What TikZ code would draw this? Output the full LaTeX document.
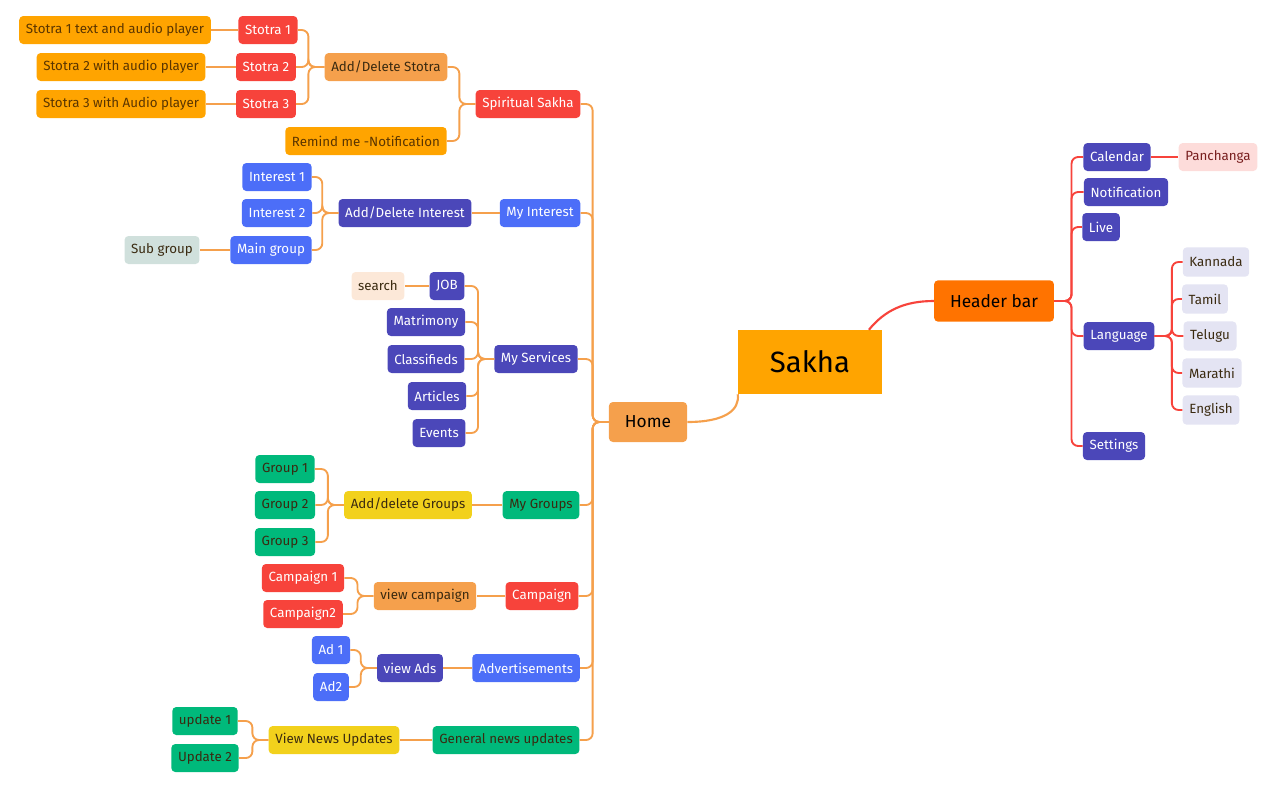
\documentclass[tikz,border=0pt]{standalone}
\usepackage{fontspec}
\setmainfont{Fira Sans}
\begin{document}
\begin{tikzpicture}[x=0.75pt,y=-0.75pt,
 box/.style={rounded corners=3pt,minimum height=21pt,inner xsep=5pt,inner ysep=2pt,font=\fontsize{10}{12}\selectfont},
 org/.style={box,fill=orange1,text=brn},
 red/.style={box,fill=red1,text=white},
 lor/.style={box,fill=lorange,text=dark},
 blu/.style={box,fill=blue1,text=white},
 pur/.style={box,fill=purp,text=white},
 grn/.style={box,fill=green1,text=dark},
 yel/.style={box,fill=yel1,text=dark},
 lav/.style={box,fill=lav1,text=dark,minimum height=22pt},
 oc/.style={draw=lorange,line width=1.4pt,rounded corners=5pt},
 rc/.style={draw=red1,line width=1.4pt,rounded corners=5pt}]
\definecolor{orange1}{HTML}{FFA400}
\definecolor{brn}{HTML}{5A3500}
\definecolor{red1}{HTML}{F7433B}
\definecolor{lorange}{HTML}{F5A04C}
\definecolor{dark}{HTML}{3A2A10}
\definecolor{blue1}{HTML}{4C6EF8}
\definecolor{purp}{HTML}{4B47B9}
\definecolor{green1}{HTML}{00B97B}
\definecolor{yel1}{HTML}{F2D11C}
\definecolor{lav1}{HTML}{E4E4F3}
\definecolor{hdr}{HTML}{FF7300}
\useasboundingbox (0,0) rectangle (1276,790);
% left nodes
\node[org] (s1t) at (115,30) {Stotra 1 text and audio player};
\node[org] (s2t) at (121,67) {Stotra 2 with audio player};
\node[org] (s3t) at (121,104) {Stotra 3 with Audio player};
\node[org] (rem) at (366,141) {Remind me -Notification};
\node[red] (s1) at (268,30) {Stotra 1};
\node[red] (s2) at (266,67) {Stotra 2};
\node[red] (s3) at (266,104) {Stotra 3};
\node[lor] (ads) at (386,67) {Add/Delete Stotra};
\node[red] (sp) at (528,104) {Spiritual Sakha};
\node[blu] (i1) at (277,177) {Interest 1};
\node[blu] (i2) at (277,213) {Interest 2};
\node[blu] (mg) at (271,250) {Main group};
\node[box,fill={rgb,255:red,208;green,224;blue,220},text=dark] (sg) at (162,250) {Sub group};
\node[pur] (adi) at (405,213) {Add/Delete Interest};
\node[blu] (mi) at (540,213) {My Interest};
\node[box,fill={rgb,255:red,252;green,232;blue,216},text=dark] (se) at (378,286) {search};
\node[pur] (job) at (447,286) {JOB};
\node[pur] (mat) at (426,322) {Matrimony};
\node[pur] (cla) at (426,359) {Classifieds};
\node[pur] (art) at (437,396) {Articles};
\node[pur] (ev) at (439,433) {Events};
\node[pur] (ms) at (536,359) {My Services};
\node[box,fill=lorange,text=black,minimum height=30pt,inner xsep=12pt,font=\fontsize{13}{15}\selectfont] (home) at (648,422) {Home};
\node[grn] (g1) at (285,469) {Group 1};
\node[grn] (g2) at (285,505) {Group 2};
\node[grn] (g3) at (285,542) {Group 3};
\node[yel] (adg) at (408,505) {Add/delete Groups};
\node[grn] (myg) at (541,505) {My Groups};
\node[red] (c1) at (303,578) {Campaign 1};
\node[red] (c2) at (303,614) {Campaign2};
\node[lor] (vc) at (425,596) {view campaign};
\node[red] (cam) at (542,596) {Campaign};
\node[blu] (a1) at (331,650) {Ad 1};
\node[blu] (a2) at (331,687) {Ad2};
\node[pur] (va) at (410,668) {view Ads};
\node[blu] (adv) at (526,668) {Advertisements};
\node[grn] (u1) at (205,721) {update 1};
\node[grn] (u2) at (205,758) {Update 2};
\node[yel] (vnu) at (334,740) {View News Updates};
\node[grn] (gnu) at (506,740) {General news updates};
% centre
\node[fill=orange1,minimum width=108pt,minimum height=48pt,font=\fontsize{22}{26}\selectfont] (sakha) at (810,362) {Sakha};
\node[box,fill=hdr,text=black,minimum height=31pt,inner xsep=12pt,font=\fontsize{13}{15}\selectfont] (hb) at (994,301) {Header bar};
% right
\node[pur] (cal) at (1117,157) {Calendar};
\node[pur] (not) at (1126,192) {Notification};
\node[pur] (live) at (1101,227) {Live};
\node[pur] (lang) at (1119,336) {Language};
\node[pur] (set) at (1114,446) {Settings};
\node[box,fill={rgb,255:red,253;green,220;blue,218},text={rgb,255:red,120;green,30;blue,30}] (pan) at (1218,157) {Panchanga};
\node[lav] (kan) at (1216,262) {Kannada};
\node[lav] (tam) at (1205,299) {Tamil};
\node[lav] (tel) at (1210,336) {Telugu};
\node[lav] (mar) at (1212,373) {Marathi};
\node[lav] (eng) at (1211,410) {English};
% connectors
\foreach \p/\c in {s1/s1t,s2/s2t,s3/s3t}{\draw[oc] (\p.west) -- (\c.east);}
\foreach \c in {s1,s2,s3}{\draw[oc] (ads.west) -- ([xshift=-12]ads.west) |- (\c.east);}
\foreach \c in {ads,rem}{\draw[oc] (sp.west) -- ([xshift=-12]sp.west) |- (\c.east);}
\foreach \c in {i1,i2,mg}{\draw[oc] (adi.west) -- ([xshift=-12]adi.west) |- (\c.east);}
\draw[oc] (mg.west) -- (sg.east);
\draw[oc] (mi.west) -- (adi.east);
\draw[oc] (job.west) -- (se.east);
\foreach \c in {job,mat,cla,art,ev}{\draw[oc] (ms.west) -- ([xshift=-12]ms.west) |- (\c.east);}
\foreach \c in {g1,g2,g3}{\draw[oc] (adg.west) -- ([xshift=-12]adg.west) |- (\c.east);}
\draw[oc] (myg.west) -- (adg.east);
\foreach \c in {c1,c2}{\draw[oc] (vc.west) -- ([xshift=-12]vc.west) |- (\c.east);}
\draw[oc] (cam.west) -- (vc.east);
\foreach \c in {a1,a2}{\draw[oc] (va.west) -- ([xshift=-12]va.west) |- (\c.east);}
\draw[oc] (adv.west) -- (va.east);
\foreach \c in {u1,u2}{\draw[oc] (vnu.west) -- ([xshift=-12]vnu.west) |- (\c.east);}
\draw[oc] (gnu.west) -- (vnu.east);
\foreach \c in {sp,mi,ms,myg,cam,adv,gnu}{\draw[oc] (home.west) -- ([xshift=-12]home.west) |- (\c.east);}
\draw[draw=lorange,line width=1.6pt] (home.east) .. controls (725,422) and (740,410) .. (sakha.south west);
\draw[draw=red1,line width=1.6pt] ([xshift=-10]sakha.north east) .. controls (885,310) and (905,301) .. (hb.west);
\foreach \c in {cal,not,live,lang,set}{\draw[rc] (hb.east) -- ([xshift=13]hb.east) |- (\c.west);}
\draw[rc] (cal.east) -- (pan.west);
\foreach \c in {kan,tam,tel,mar,eng}{\draw[rc] (lang.east) -- ([xshift=13]lang.east) |- (\c.west);}
\end{tikzpicture}
\end{document}
